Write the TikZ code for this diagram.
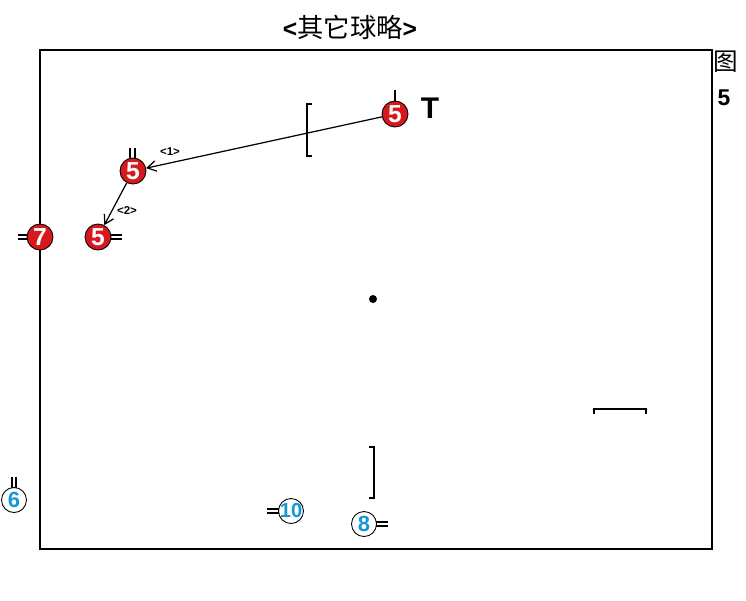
\documentclass[tikz,border=0pt]{standalone}
\usepackage{fontspec}
\setmainfont{Liberation Sans}
\newfontfamily\cjk{Noto Sans CJK SC}
\usetikzlibrary{arrows.meta, positioning}
\definecolor{shirtred}{RGB}{215,25,30}
\definecolor{numblue}{RGB}{20,150,215}

\begin{document}
\begin{tikzpicture}[x=0.02cm,y=-0.02cm,
  redman/.style={circle,draw=black,line width=0.5pt,fill=shirtred,text=white,
    inner sep=0pt,minimum size=0.52cm,font=\bfseries\fontsize{14}{14}\selectfont},
  blueman/.style={circle,draw=black,line width=0.5pt,fill=white,text=numblue,
    inner sep=0pt,minimum size=0.5cm,font=\bfseries\fontsize{12.5}{12.5}\selectfont},
  facing/.style={line width=0.6pt},
  bracket/.style={line width=0.9pt},
  runlabel/.style={font=\bfseries\fontsize{6.5}{7}\selectfont,inner sep=1pt}]
\useasboundingbox (0,0) rectangle (746,600);
% title and figure number
\node[font=\fontsize{14}{14}\selectfont] (title) at (350,27)
  {\textbf{<}{\cjk\fontsize{15}{15}\selectfont 其它球略}\textbf{>}};
\node[font=\cjk\fontsize{14}{14}\selectfont] (fig) at (726,62) {图};
\node[font=\bfseries\fontsize{13}{13}\selectfont] (fignum) at (724,98) {5};

% field
\draw[line width=1pt] (40,50) rectangle (712,549);

% brackets and ball
\draw[bracket] (312,104) -- (307,104) -- (307,156) -- (312,156);
\draw[bracket] (369,447) -- (374,447) -- (374,498) -- (369,498);
\draw[bracket] (594,414) -- (594,409) -- (646,409) -- (646,414);
\fill (373,299) circle (4);

% facing marks
\draw[facing] (395,101) -- (395,90);
\draw[facing] (130,158) -- (130,148) (135,158) -- (135,148);
\draw[facing] (110,235) -- (122,235) (110,239) -- (122,239);
\draw[facing] (18,235) -- (28,235) (18,239) -- (28,239);
\draw[facing] (12,489) -- (12,477) (16,489) -- (16,477);
\draw[facing] (267,509) -- (279,509) (267,513) -- (279,513);
\draw[facing] (376,522) -- (388,522) (376,526) -- (388,526);

% players
\node[redman] (r5a) at (395,114) {5};
\node[redman] (r5b) at (133,171) {5};
\node[redman] (r5c) at (98,237) {5};
\node[redman] (r7) at (40,237) {7};
\node[blueman] (b6) at (14,500) {6};
\node[blueman,inner sep=-2pt,font=\bfseries\fontsize{11.5}{11.5}\selectfont] (b10) at (291,511) {10};
\node[blueman] (b8) at (364,524) {8};
\node[font=\bfseries\fontsize{17}{17}\selectfont] (tee) at (430,108) {T};

% runs
\draw[-{Straight Barb[length=5pt,width=6pt]},line width=0.7pt] (r5a) -- (r5b);
\draw[-{Straight Barb[length=5pt,width=6pt]},line width=0.7pt] (r5b) -- (r5c);
\node[runlabel] (run1) at (170,152) {<1>};
\node[runlabel] (run2) at (127,211) {<2>};
\end{tikzpicture}
\end{document}
